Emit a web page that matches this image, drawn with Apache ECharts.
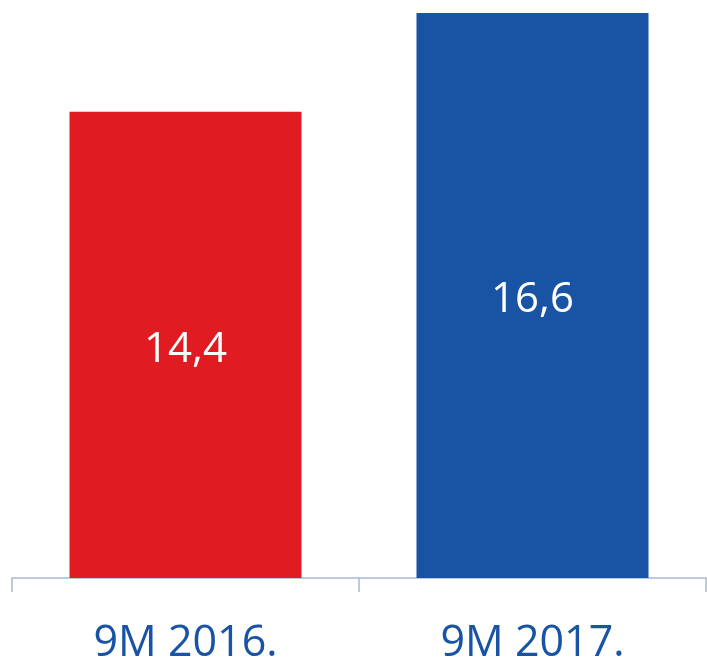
<!DOCTYPE html>
<html>
<head>
<meta charset="utf-8">
<script src="https://cdn.jsdelivr.net/npm/echarts@6/dist/echarts.min.js"></script>
<style>
  html, body { margin: 0; padding: 0; background: #fff; }
</style>
</head>
<body>
<div id="myChart" style="width: 707px; height: 660px;"></div>
<script>
var categories = ["9M 2016.", "9M 2017."];
var values = [14.4, 16.6];
var barColors = ["#e01b22", "#1953a3"];

var myChart = echarts.init(document.getElementById("myChart"));
myChart.setOption({
  animation: false,
  grid: { left: 12, right: 1, top: 13, bottom: 82, outerBoundsMode: "none" },
  xAxis: {
    type: "category",
    data: categories,
    axisLine: { lineStyle: { color: "#a9b8d6", width: 1.5 } },
    axisTick: { show: true, length: 14, lineStyle: { color: "#a9b8d6", width: 1.5 } },
    axisLabel: {
      margin: 44,
      color: "#1953a3",
      fontSize: 43,
      fontFamily: "Open Sans"
    }
  },
  yAxis: {
    type: "value",
    min: 4,
    max: 16.6,
    show: false
  },
  series: [
    {
      type: "bar",
      barWidth: 232,
      data: values.map(function (v, i) {
        return { value: v, itemStyle: { color: barColors[i] } };
      }),
      label: {
        show: true,
        position: "inside",
        offset: [0, 5],
        color: "#fff",
        fontSize: 42,
        fontFamily: "Open Sans",
        formatter: function (p) {
          return String(p.value).replace(".", ",");
        }
      }
    }
  ]
});
</script>
</body>
</html>
